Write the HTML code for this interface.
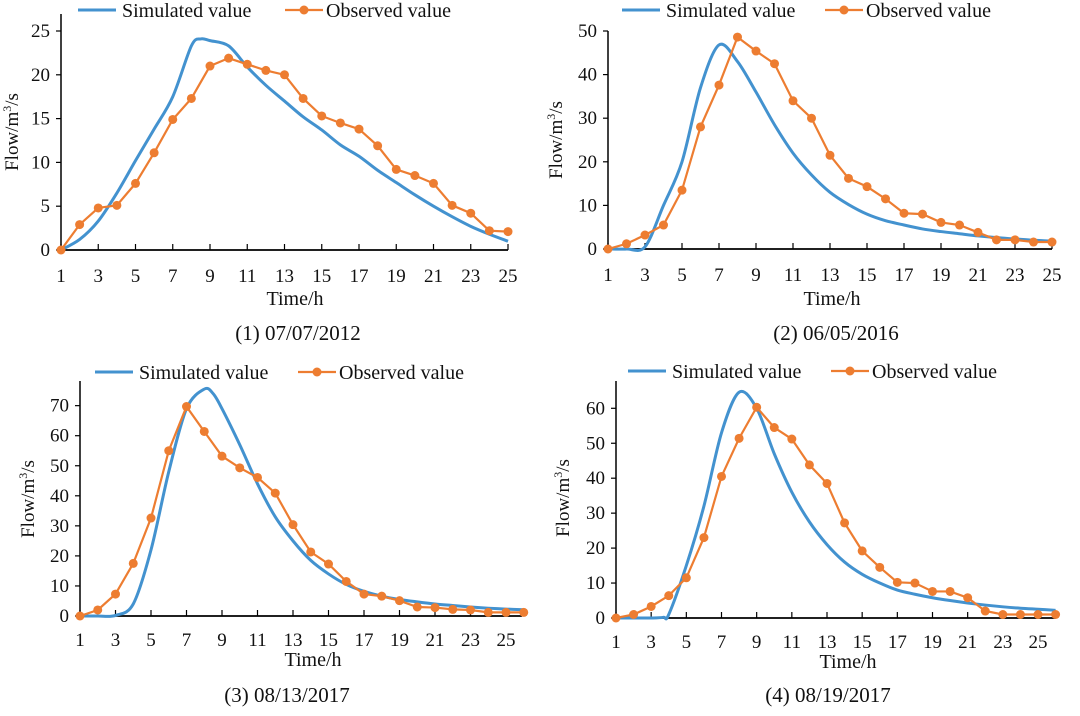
<!DOCTYPE html>
<html><head><meta charset="utf-8"><style>
body{margin:0;background:#fff}
svg text{font-family:"Liberation Serif",serif;fill:#111}
</style></head><body>
<svg id="c" width="1080" height="711" xmlns="http://www.w3.org/2000/svg"></svg>
<script>
const hours = [1,2,3,4,5,6,7,8,9,10,11,12,13,14,15,16,17,18,19,20,21,22,23,24,25,26];
const obs1 = [0,2.9,4.8,5.1,7.6,11.1,14.9,17.3,21,21.9,21.2,20.5,20,17.3,15.3,14.5,13.8,11.9,9.2,8.5,7.6,5.1,4.2,2.2,2.1];
const simX1 = [1,2,3,4,5,6,7,8,8.5,9,10,11,12,13,14,15,16,17,18,19,20,21,22,23,24,25];
const simY1 = [0,1.2,3.3,6.5,10.2,13.8,17.5,23.3,24.1,23.9,23.3,20.9,18.8,17,15.2,13.7,12,10.7,9.1,7.7,6.3,5,3.8,2.7,1.8,1];
const obs2 = [0,1.2,3.2,5.5,13.5,28,37.6,48.6,45.4,42.5,34,30,21.5,16.2,14.3,11.5,8.2,8,6.1,5.5,3.8,2.1,2.1,1.6,1.6];
const simX2 = [1,2,3,4,5,6,7,8,9,10,11,12,13,14,15,16,17,18,19,20,21,22,23,24,25];
const simY2 = [0,0,0.5,10,20,37,46.8,43,36,28.5,22,17,13,10.2,8,6.5,5.5,4.6,4,3.5,3,2.6,2.3,2,1.8];
const obs3 = [0,2,7.3,17.5,32.6,55,69.7,61.4,53.2,49.3,46.1,40.9,30.4,21.3,17.3,11.5,7.3,6.6,5.1,3,2.8,2.2,2,1.2,1.2,1.2];
const simX3 = [1,2,3,4,5,6,7,8,8.5,9,10,11,12,13,14,15,16,17,18,19,20,21,22,23,24,25,26];
const simY3 = [0,0,0.2,4,22,48,69,75.5,74,69,57,44,33,25,18.5,14,10.5,8.2,6.6,5.5,4.7,4,3.5,3,2.6,2.3,2.1];
const obs4 = [0,1,3.3,6.4,11.5,23,40.5,51.4,60.3,54.5,51.2,43.8,38.5,27.2,19.2,14.5,10.2,10,7.6,7.6,5.8,2,1,1,1,1];
const simX4 = [1,2,3,3.7,4,5,6,7,8,9,10,11,12,13,14,15,16,17,18,19,20,21,22,23,24,25,26];
const simY4 = [0,0,0,0.2,1,15,32,53,64.6,60,47,36,27.5,21,16,12.5,10,8,6.8,5.8,5,4.3,3.7,3.2,2.8,2.5,2.2];
const yTicks1=[0,5,10,15,20,25], yTicks2=[0,10,20,30,40,50], yTicks3=[0,10,20,30,40,50,60,70], yTicks4=[0,10,20,30,40,50,60];
const xTickLabels=[1,3,5,7,9,11,13,15,17,19,21,23,25];
const captions=["(1) 07/07/2012","(2) 06/05/2016","(3) 08/13/2017","(4) 08/19/2017"];

const NS="http://www.w3.org/2000/svg", svg=document.getElementById('c');
function mk(tag,attrs,parent){const e=document.createElementNS(NS,tag);for(const k in attrs)e.setAttribute(k,attrs[k]);(parent||svg).appendChild(e);return e;}
function smooth(pts){let d=`M${pts[0][0]},${pts[0][1]}`;for(let i=0;i<pts.length-1;i++){const p0=pts[i-1]||pts[i],p1=pts[i],p2=pts[i+1],p3=pts[i+2]||p2;const t=0.16;d+=` C${p1[0]+(p2[0]-p0[0])*t},${p1[1]+(p2[1]-p0[1])*t} ${p2[0]-(p3[0]-p1[0])*t},${p2[1]-(p3[1]-p1[1])*t} ${p2[0]},${p2[1]}`;}return d;}

const panels=[
 {ax:61,x1:61,x25:508,xEnd:508,y0:250,yTop:14,ppu:8.76,yt:yTicks1,obs:obs1,sx:simX1,sy:simY1,leg:[78,10,285],yt_x:18,yt_y:132,tx:295,ty:305,cx:298,cy:340,lb:282},
 {ax:608,x1:608,x25:1052,xEnd:1052,y0:249,yTop:31,ppu:4.36,yt:yTicks2,obs:obs2,sx:simX2,sy:simY2,leg:[622,10,825],yt_x:562,yt_y:140,tx:832,ty:305,cx:836,cy:340,lb:281},
 {ax:80,x1:80,x25:506,xEnd:522,y0:616,yTop:381,ppu:3.005,yt:yTicks3,obs:obs3,sx:simX3,sy:simY3,leg:[95,372,298],yt_x:34,yt_y:499,tx:313,ty:666,cx:287,cy:702,lb:646},
 {ax:616,x1:616,x25:1038,xEnd:1056,y0:618,yTop:381,ppu:3.495,yt:yTicks4,obs:obs4,sx:simX4,sy:simY4,leg:[628,371,831],yt_x:569,yt_y:498,tx:848,ty:668,cx:828,cy:702,lb:648}
];
panels.forEach((p,pi)=>{
 const g=mk('g',{});
 
 
 const X=h=>p.x1+(h-1)*(p.x25-p.x1)/24, Y=v=>p.y0-v*p.ppu;
 const ya=mk('line',{x1:p.ax,y1:p.yTop,x2:p.ax,y2:p.y0,stroke:'#000','stroke-width':1.5},g);
 
 const xa=mk('line',{x1:p.ax,y1:p.y0,x2:p.xEnd,y2:p.y0,stroke:'#000','stroke-width':1.8},g);
 
 p.yt.forEach(v=>{mk('line',{x1:p.ax-5,y1:Y(v),x2:p.ax,y2:Y(v),stroke:'#000','stroke-width':1.2},g);
  const t=mk('text',{x:p.ax-11,y:Y(v)+6,'text-anchor':'end','font-size':19},g);t.textContent=v;
  });
 xTickLabels.forEach(h=>{mk('line',{x1:X(h),y1:p.y0-6,x2:X(h),y2:p.y0,stroke:'#000','stroke-width':1.2},g);
  const t=mk('text',{x:X(h),y:p.lb,'text-anchor':'middle','font-size':19},g);t.textContent=h;
  });
 const yt=mk('text',{x:0,y:0,'text-anchor':'middle','font-size':19,transform:`translate(${p.yt_x},${p.yt_y}) rotate(-90)`},g);
 yt.innerHTML='Flow/m<tspan dy="-7" font-size="12">3</tspan><tspan dy="7">/s</tspan>';
 
 const xt=mk('text',{x:p.tx,y:p.ty,'text-anchor':'middle','font-size':20},g);xt.textContent='Time/h';
 
 const cp=mk('text',{x:p.cx,y:p.cy,'text-anchor':'middle','font-size':21},g);cp.textContent=captions[pi];
 
 const sp=mk('path',{d:smooth(p.sx.map((h,i)=>[X(h),Y(p.sy[i])])),fill:'none',stroke:'#4392cf','stroke-width':3},g);
 
 const op=mk('polyline',{points:p.obs.map((v,i)=>X(hours[i])+','+Y(v)).join(' '),fill:'none',stroke:'#ed7d31','stroke-width':2.2},g);
 
 p.obs.forEach((v,i)=>{const c=mk('circle',{cx:X(hours[i]),cy:Y(v),r:4.5,fill:'#ed7d31'},g);
  });
 const [lx,ly,ox]=p.leg;
 const lg=mk('g',{},g);
 mk('line',{x1:lx,y1:ly,x2:lx+38,y2:ly,stroke:'#4392cf','stroke-width':3},lg);
 const l1=mk('text',{x:lx+44,y:ly+7,'font-size':20},lg);l1.textContent='Simulated value';
 
 mk('line',{x1:ox,y1:ly,x2:ox+38,y2:ly,stroke:'#ed7d31','stroke-width':2.2},lg);
 mk('circle',{cx:ox+19,cy:ly,r:4.5,fill:'#ed7d31'},lg);
 const l2=mk('text',{x:ox+41,y:ly+7,'font-size':20},lg);l2.textContent='Observed value';
 
});
</script>
</body></html>
